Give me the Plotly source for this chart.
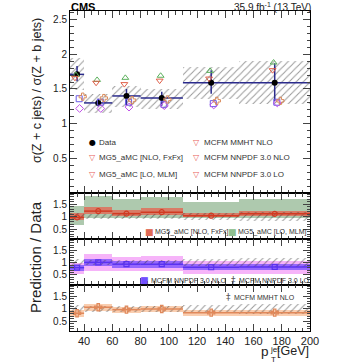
import plotly.graph_objects as go

# ---------------- data ----------------
edges = [30, 40, 60, 80, 110, 150, 200]
centers = [35, 50, 70, 95, 130, 175]
data = [1.71, 1.30, 1.40, 1.37, 1.59, 1.59]
data_stat_hi = [1.83, 1.36, 1.50, 1.46, 1.77, 1.87]
data_stat_lo = [1.61, 1.25, 1.27, 1.26, 1.43, 1.33]
data_tot_hi = [1.95, 1.43, 1.55, 1.50, 1.81, 1.90]
data_tot_lo = [1.48, 1.15, 1.24, 1.21, 1.36, 1.28]

mg5_nlo = [1.66, 1.59, 1.57, 1.62, 1.65, 1.77]
mg5_lo = [1.70, 1.63, 1.66, 1.69, 1.76, 1.88]
mcfm_mmht_nlo = [1.39, 1.37, 1.34, 1.35, 1.33, 1.33]
mcfm_nnpdf_nlo = [1.36, 1.31, 1.31, 1.28, 1.29, 1.31]
mcfm_nnpdf_lo = [1.22, 1.22, 1.24, 1.26, 1.27, 1.30]

# ratio (prediction / data) uncertainty bands
mg5_nlo_band_lo = [0.86, 1.10, 1.03, 1.05, 0.97, 1.03]
mg5_nlo_band_hi = [1.15, 1.37, 1.27, 1.33, 1.16, 1.22]
mg5_lo_band_lo = [0.68, 0.95, 0.95, 0.95, 0.95, 0.95]
mg5_lo_band_hi = [1.42, 1.82, 1.72, 1.80, 1.58, 1.72]
nnpdf_nlo_band_lo = [0.66, 0.87, 0.80, 0.80, 0.70, 0.70]
nnpdf_nlo_band_hi = [0.92, 1.15, 1.07, 1.07, 0.95, 0.95]
nnpdf_lo_band_lo = [0.52, 0.68, 0.68, 0.68, 0.56, 0.56]
nnpdf_lo_band_hi = [1.00, 1.36, 1.24, 1.28, 1.06, 1.06]
mmht_band_lo = [0.66, 0.89, 0.82, 0.85, 0.71, 0.72]
mmht_band_hi = [0.94, 1.18, 1.08, 1.10, 0.95, 0.96]

legend_col1 = ["Data", "MG5_aMC [NLO, FxFx]", "MG5_aMC [LO, MLM]"]
legend_col2 = ["MCFM MMHT NLO", "MCFM NNPDF 3.0 NLO", "MCFM NNPDF 3.0 LO"]

# ---------------- derived ----------------
widths = [edges[i + 1] - edges[i] for i in range(len(centers))]
halfw = [w / 2 for w in widths]
ratio = lambda p: [p[i] / data[i] for i in range(len(data))]
rel_lo = [data_tot_lo[i] / data[i] for i in range(len(data))]
rel_hi = [data_tot_hi[i] / data[i] for i in range(len(data))]


def steps(vals):
    xs, ys = [], []
    for i, v in enumerate(vals):
        xs += [edges[i], edges[i + 1], None]
        ys += [v, v, None]
    return xs, ys


FONT = "Liberation Sans, Arial, sans-serif"
RED = "#d23a22"
RED_BAND = "rgba(226,105,85,0.8)"
GREEN_BAND = "rgba(165,195,165,0.9)"
BLUE = "#5a32f0"
BLUE_BAND = "rgba(110,70,255,0.7)"
MAG_BAND = "rgba(240,130,245,0.6)"
ORANGE = "#e0885a"
ORANGE_BAND = "rgba(248,190,150,0.75)"
NAVY = "#2b2b8c"

# plot-area geometry (pixels) for placing text
L, R, T, B = 70, 46, 11, 33
W, H = 356, 364
PW, PH = W - L - R, H - T - B


def px(x):
    return (x - L) / PW


def py(y):
    return (H - B - y) / PH


fig = go.Figure()


def hatch(ax, lo, hi):
    fig.add_trace(go.Bar(
        x=centers, y=[hi[i] - lo[i] for i in range(len(lo))], base=lo, width=widths,
        marker=dict(color="rgba(0,0,0,0)", line=dict(width=0),
                    pattern=dict(shape="/", fgcolor="#333", bgcolor="rgba(0,0,0,0)",
                                 size=5, solidity=0.2, fillmode="overlay")),
        xaxis="x" + ax, yaxis="y" + ax, showlegend=False, hoverinfo="skip"))


def band(ax, lo, hi, color):
    fig.add_trace(go.Bar(
        x=centers, y=[hi[i] - lo[i] for i in range(len(lo))], base=lo, width=widths,
        marker=dict(color=color, line=dict(width=0)),
        xaxis="x" + ax, yaxis="y" + ax, showlegend=False, hoverinfo="skip"))


def stepline(ax, vals, color):
    xs, ys = steps(vals)
    fig.add_trace(go.Scatter(x=xs, y=ys, mode="lines", line=dict(color=color, width=1.5),
                             xaxis="x" + ax, yaxis="y" + ax, showlegend=False, hoverinfo="skip"))


# ---------------- top panel ----------------
hatch("", data_tot_lo, data_tot_hi)
fig.add_trace(go.Scatter(
    x=centers, y=data, mode="markers",
    marker=dict(color="black", size=6),
    error_x=dict(type="data", array=halfw, color=NAVY, thickness=1.5, width=0),
    error_y=dict(type="data", symmetric=False,
                 array=[data_stat_hi[i] - data[i] for i in range(6)],
                 arrayminus=[data[i] - data_stat_lo[i] for i in range(6)],
                 color=NAVY, thickness=1.5, width=0),
    showlegend=False, hoverinfo="skip"))

preds = [
    (mg5_lo, "triangle-up-open", "#5cb05c", -0.8),
    (mg5_nlo, "triangle-down-open", "#e0604a", -1.5),
    (mcfm_nnpdf_nlo, "square-open", "#6a5ae8", 1.5),
    (mcfm_nnpdf_lo, "diamond-open", "#c050e8", 1.8),
    (mcfm_mmht_nlo, "cross-open", "#d98a5a", 4.0),
]
for vals, sym, col, off in preds:
    fig.add_trace(go.Scatter(
        x=[c + off for c in centers], y=vals, mode="markers",
        marker=dict(symbol=sym, color=col, size=6, line=dict(width=1, color=col)),
        showlegend=False, hoverinfo="skip"))

# ---------------- ratio panel 1 ----------------
band("2", mg5_lo_band_lo, mg5_lo_band_hi, GREEN_BAND)
band("2", mg5_nlo_band_lo, mg5_nlo_band_hi, RED_BAND)
stepline("2", ratio(mg5_nlo), RED)
fig.add_trace(go.Scatter(x=centers, y=ratio(mg5_nlo), mode="markers",
                         marker=dict(symbol="circle-open", color=RED, size=5, line=dict(width=1.2)),
                         xaxis="x2", yaxis="y2", showlegend=False, hoverinfo="skip"))
hatch("2", rel_lo, rel_hi)

# ---------------- ratio panel 2 ----------------
band("3", nnpdf_lo_band_lo, nnpdf_lo_band_hi, MAG_BAND)
band("3", nnpdf_nlo_band_lo, nnpdf_nlo_band_hi, BLUE_BAND)
stepline("3", ratio(mcfm_nnpdf_nlo), BLUE)
fig.add_trace(go.Scatter(x=centers, y=ratio(mcfm_nnpdf_nlo), mode="markers",
                         marker=dict(symbol="square-open", color=BLUE, size=5, line=dict(width=1.2)),
                         xaxis="x3", yaxis="y3", showlegend=False, hoverinfo="skip"))
hatch("3", rel_lo, rel_hi)

# ---------------- ratio panel 3 ----------------
band("4", mmht_band_lo, mmht_band_hi, ORANGE_BAND)
stepline("4", ratio(mcfm_mmht_nlo), ORANGE)
fig.add_trace(go.Scatter(x=centers, y=ratio(mcfm_mmht_nlo), mode="markers",
                         marker=dict(symbol="cross-open", color=ORANGE, size=6, line=dict(width=1.2)),
                         xaxis="x4", yaxis="y4", showlegend=False, hoverinfo="skip"))
hatch("4", rel_lo, rel_hi)

# ---------------- legend (as text) ----------------
ann = []


def text_at(text, x, y, size, xanchor="left", color="#222", family=FONT):
    ann.append(dict(text=text, x=px(x), y=py(y), xref="paper", yref="paper",
                    xanchor=xanchor, yanchor="middle", showarrow=False, borderpad=0,
                    align="left", font=dict(size=size, family=family, color=color)))


def legend_entry(icon, icon_color, icon_size, ix, tx, y, text, size):
    text_at(icon, ix, y, icon_size, "center", icon_color, "DejaVu Sans")
    text_at(text, tx, y, size, "left", "#333")


rows = [142, 157.5, 174]
for i, name in enumerate(legend_col1):
    if name == "Data":
        legend_entry("●", "black", 8, 92, 98, rows[i], name, 8)
    else:
        legend_entry("▽", "#e8605a", 8, 92, 98, rows[i], name, 8)
for i, name in enumerate(legend_col2):
    legend_entry("▽", "#e8605a", 8, 196, 203, rows[i], name, 8)

legend_entry("■", "#e06a55", 9, 149, 154, 232, "MG5_aMC [NLO, FxFx]", 7)
legend_entry("■", "#8fbf8f", 9, 232, 237, 232, "MG5_aMC [LO, MLM]", 7)
legend_entry("■", "#7050ff", 9, 144, 150, 280, "MCFM NNPDF 3.0 NLO", 7)
legend_entry("‡", "#555", 9, 233, 238, 280, "MCFM NNPDF 3.0 LO", 7)
legend_entry("‡", "#555", 9, 228, 233, 297, "MCFM MMHT NLO", 7)

# x-axis title: p with stacked super/subscript block, then [GeV]
text_at("p", 259.5, 351, 13.5)
text_at("jet<br>T", 268.5, 354, 8)
text_at("[GeV]", 310, 351, 12.5, "right")

ann += [
    dict(text="<b>CMS</b>", x=0, y=1, xref="paper", yref="paper", xanchor="left",
         yanchor="bottom", yshift=-3, showarrow=False, borderpad=0,
         font=dict(size=11, family=FONT, color="black")),
    dict(text="35.9 fb<sup>-1</sup> (13 TeV)", x=1.01, y=1, xref="paper", yref="paper",
         xanchor="right", yanchor="bottom", yshift=-3, showarrow=False, borderpad=0,
         font=dict(size=10, family=FONT, color="#222")),
    dict(text="σ(Z + c jets) / σ(Z + b jets)", x=-0.1, y=0.753, xref="paper", yref="paper",
         xanchor="right", yanchor="middle", textangle=-90, showarrow=False,
         font=dict(size=12.5, family=FONT, color="#222")),
    dict(text="Prediction / Data", x=-0.1, y=0.23, xref="paper", yref="paper",
         xanchor="right", yanchor="middle", textangle=-90, showarrow=False,
         font=dict(size=15, family=FONT, color="#222")),
]


# ---------------- layout ----------------
def xax(show_labels, anchor):
    d = dict(range=[30, 200], anchor=anchor, automargin=False,
             showticklabels=show_labels, ticks="inside", ticklen=7, tickwidth=1,
             mirror="allticks", showline=True, linecolor="black", linewidth=1,
             showgrid=False, zeroline=False, dtick=20, tick0=0,
             minor=dict(ticks="inside", ticklen=3.5, dtick=5, tick0=0, showgrid=False),
             tickfont=dict(size=11, family=FONT, color="#222"))
    if anchor != "y":
        d["matches"] = "x"
    return d


def yax(rng, domain):
    return dict(range=rng, domain=domain, automargin=False, ticks="inside", ticklen=7,
                tickwidth=1, mirror="allticks", showline=True, linecolor="black", linewidth=1,
                showgrid=False, zeroline=False, dtick=0.5, tick0=0,
                minor=dict(ticks="inside", ticklen=3.5, dtick=0.1, tick0=0, showgrid=False),
                tickfont=dict(size=10, family=FONT, color="#222"))


fig.update_layout(
    width=W, height=H,
    margin=dict(l=L, r=R, t=T, b=B, autoexpand=False),
    paper_bgcolor="white", plot_bgcolor="white",
    barmode="overlay", bargap=0, showlegend=False,
    font=dict(family=FONT, size=10, color="#222"),
    xaxis=xax(False, "y"), yaxis=yax([0.005, 2.62], [0.431, 1.0]),
    xaxis2=xax(False, "y2"), yaxis2=yax([0.1, 1.95], [0.2875, 0.431]),
    xaxis3=xax(False, "y3"), yaxis3=yax([0.1, 1.95], [0.144, 0.2875]),
    xaxis4=xax(True, "y4"), yaxis4=yax([0.1, 1.95], [0.0, 0.144]),
    annotations=ann,
)

fig.write_html("out.html", config={"displayModeBar": False},
               post_script="document.body.style.margin='0px';")
